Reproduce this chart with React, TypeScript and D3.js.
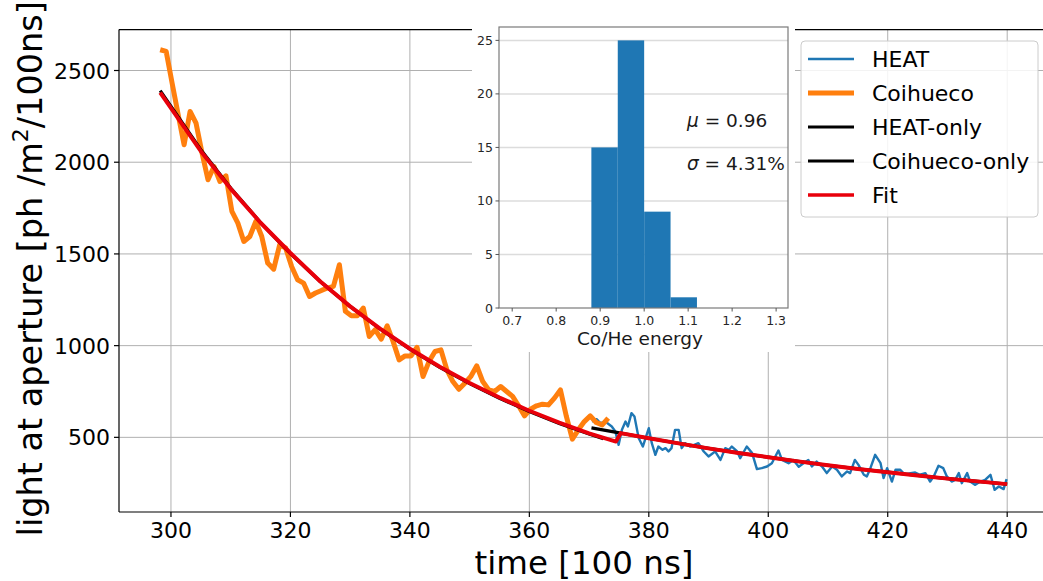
import React from "react";
import * as d3 from "d3";

// ---- Data ----
const coihuecoTime = [298.2,299.2,300.2,301.2,302.2,303.2,304.2,305.2,306.2,307.2,308.2,309.2,310.2,311.2,312.2,313.2,314.2,315.2,316.2,317.2,318.2,319.2,320.2,321.2,322.2,323.2,324.2,325.2,326.2,327.2,328.2,329.2,330.2,331.2,332.2,333.2,334.2,335.2,336.2,337.2,338.2,339.2,340.2,341.2,342.2,343.2,344.2,345.2,346.2,347.2,348.2,349.2,350.2,351.2,352.2,353.2,354.2,355.2,356.2,357.2,358.2,359.2,360.2,361.2,362.2,363.2,364.2,365.2,366.2,367.2,368.2,369.2,370.2,371.2,372.2,373.2];
const coihuecoValues = [2613,2604,2430,2260,2095,2277,2213,2050,1904,1977,1895,1926,1732,1668,1568,1595,1677,1595,1450,1417,1550,1532,1432,1359,1341,1268,1287,1301,1314,1323,1441,1187,1163,1163,1205,1050,1087,1035,1108,1022,922,944,944,991,832,913,968,977,868,804,762,795,832,890,804,759,750,777,750,723,672,617,654,672,681,677,714,759,614,490,541,586,617,581,568,605];

const heatTime = [370.5,371.3,371.9,372.7,373.8,374.4,374.95,375.5,376.1,376.5,377.1,377.6,378.3,379.0,380.0,380.5,381.1,381.6,382.3,382.8,383.3,383.8,384.4,385.0,385.5,386.1,386.9,388.3,389.2,390.0,391.1,392.0,392.8,393.4,393.9,394.8,395.3,396.4,397.3,398.1,398.9,399.8,400.6,401.7,402.3,403.4,404.2,405.1,405.9,406.7,407.3,408.1,409.0,409.8,410.7,411.5,412.3,413.2,413.7,414.5,415.1,416.0,416.5,417.1,417.9,418.8,419.3,419.9,420.7,421.3,422.1,422.9,423.8,424.6,425.4,426.3,427.1,427.7,428.5,429.3,429.9,430.7,431.3,431.9,432.4,433.3,433.8,434.6,435.5,436.3,437.2,437.9,438.6,439.4,439.9];
const heatValues = [586,599,577,586,559,532,459,541,586,559,632,614,496,450,550,468,405,450,432,441,423,441,541,541,441,468,450,468,423,396,423,377,441,432,450,423,386,450,414,327,332,341,359,428,377,359,377,340,359,377,341,368,341,305,341,323,287,314,305,377,350,296,287,332,405,359,278,332,259,323,323,296,305,308,296,305,259,287,345,332,287,259,268,305,250,305,259,241,259,268,296,214,232,218,272];

const heatOnlyTime = [370.4,375.3,380,385,390,395,400,405,410,415,420,425,430,435,440];
const heatOnlyValues = [552,523,495,467,440,415,392,369,348,328,310,292,275,260,245];

const coihuecoOnlyTime = [298.2,305,310,315,320,325,330,335,340,345,350,355,360,365,370,372.4];
const coihuecoOnlyValues = [2390,2068,1859,1671,1502,1350,1214,1091,981,882,793,713,641,576,518,492];

const fitTime = [298.2,305,310,315,320,325,330,335,340,345,350,355,360,365,370,374.5,375.3,380,385,390,395,400,405,410,415,420,425,430,435,440];
const fitValues = [2380,2060,1855,1670,1505,1350,1214,1093,983,885,796,717,645,580,522,477,523,495,467,440,415,392,369,348,328,310,292,275,260,245];

const xTicks = [300,320,340,360,380,400,420,440];
const yTicks = [500,1000,1500,2000,2500];

const histEdges = [0.88,0.94,1.0,1.06,1.12];
const histCounts = [15,25,9,1];
const insetXTicks = [0.7,0.8,0.9,1.0,1.1,1.2,1.3];
const insetYTicks = [0,5,10,15,20,25];

const legendItems = [
  { label: "HEAT", color: "#1f77b4", width: 2.4 },
  { label: "Coihueco", color: "#ff7f0e", width: 5 },
  { label: "HEAT-only", color: "#000000", width: 3.2 },
  { label: "Coihueco-only", color: "#000000", width: 3.2 },
  { label: "Fit", color: "#e8000b", width: 3.4 },
];

const FONT = "DejaVu Sans, sans-serif";

export default function App() {
  const W = 1043, H = 581;
  const x = d3.scaleLinear().domain([291.3, 447.0]).range([119, 1049]);
  const y = d3.scaleLinear().domain([93, 2723]).range([512, 29.6]);
  const left = 119, right = 1049, top = 29.6, bottom = 512;

  const mk = (ts: number[], vs: number[]) =>
    d3.line<number>().x((_, i) => x(ts[i])).y((v) => y(v))(vs) || "";

  const ix = d3.scaleLinear().domain([0.67, 1.327]).range([499, 788]);
  const iy = d3.scaleLinear().domain([0, 26.25]).range([308, 27]);

  const red = "#e8000b";

  return (
    <svg width={W} height={H} style={{ position: "absolute", left: 0, top: 0, background: "#fff" }} fontFamily={FONT}>
      <rect x={0} y={0} width={W} height={H} fill="#fff" />
      {/* main grid */}
      {xTicks.map((t) => (
        <line key={"gx" + t} x1={x(t)} x2={x(t)} y1={top} y2={bottom} stroke="#b0b0b0" strokeWidth={1} />
      ))}
      {yTicks.map((t) => (
        <line key={"gy" + t} x1={left} x2={right} y1={y(t)} y2={y(t)} stroke="#b0b0b0" strokeWidth={1} />
      ))}
      {/* data */}
      <path d={mk(heatTime, heatValues)} fill="none" stroke="#1f77b4" strokeWidth={2.4} strokeLinejoin="round" />
      <path d={mk(coihuecoTime, coihuecoValues)} fill="none" stroke="#ff7f0e" strokeWidth={5} strokeLinejoin="round" />
      <path d={mk(heatOnlyTime, heatOnlyValues)} fill="none" stroke="#000" strokeWidth={3.2} />
      <path d={mk(coihuecoOnlyTime, coihuecoOnlyValues)} fill="none" stroke="#000" strokeWidth={3.2} />
      <path d={mk(fitTime, fitValues)} fill="none" stroke={red} strokeWidth={4} strokeLinejoin="round" />
      {/* spines */}
      <line x1={left} x2={left} y1={top} y2={bottom} stroke="#000" strokeWidth={1.2} />
      <line x1={left} x2={right} y1={bottom} y2={bottom} stroke="#000" strokeWidth={1.2} />
      <line x1={left} x2={right} y1={top} y2={top} stroke="#000" strokeWidth={1.2} />
      {/* ticks */}
      {xTicks.map((t) => (
        <g key={"tx" + t}>
          <line x1={x(t)} x2={x(t)} y1={bottom} y2={bottom + 5} stroke="#000" strokeWidth={1.2} />
          <text x={x(t)} y={bottom + 26} fontSize={22} textAnchor="middle" fill="#000">{t}</text>
        </g>
      ))}
      {yTicks.map((t) => (
        <g key={"ty" + t}>
          <line x1={left - 5} x2={left} y1={y(t)} y2={y(t)} stroke="#000" strokeWidth={1.2} />
          <text x={left - 9} y={y(t) + 8} fontSize={22} textAnchor="end" fill="#000">{t}</text>
        </g>
      ))}
      {/* axis labels */}
      <text x={584} y={574} fontSize={32.5} textAnchor="middle" fill="#000">time [100 ns]</text>
      <text transform={`translate(42,${(top + bottom) / 2 - 2}) rotate(-90)`} fontSize={33.5} textAnchor="middle" fill="#000">
        light at aperture [ph /m<tspan fontSize={22} dy={-14}>2</tspan><tspan dy={14}>/100ns]</tspan>
      </text>

      {/* inset */}
      <rect x={472} y={0} width={323} height={352} fill="#fff" />
      {insetYTicks.slice(1).map((t) => (
        <line key={"igy" + t} x1={499} x2={788} y1={iy(t)} y2={iy(t)} stroke="#dcdcdc" strokeWidth={1.5} />
      ))}
      {histCounts.map((c, i) => (
        <rect key={"bar" + i} x={ix(histEdges[i])} y={iy(c)} width={ix(histEdges[i + 1]) - ix(histEdges[i])} height={iy(0) - iy(c)} fill="#1f77b4" />
      ))}
      <rect x={499} y={27} width={289} height={281} fill="none" stroke="#7a7a7a" strokeWidth={1.2} />
      {insetXTicks.map((t) => (
        <g key={"itx" + t}>
          <line x1={ix(t)} x2={ix(t)} y1={308} y2={311.5} stroke="#555" />
          <text x={ix(t)} y={325} fontSize={12.5} textAnchor="middle" fill="#262626">{t.toFixed(1)}</text>
        </g>
      ))}
      {insetYTicks.map((t) => (
        <g key={"ity" + t}>
          <line x1={495.5} x2={499} y1={iy(t)} y2={iy(t)} stroke="#555" />
          <text x={493} y={iy(t) + 4.5} fontSize={12.5} textAnchor="end" fill="#262626">{t}</text>
        </g>
      ))}
      <text x={640} y={345} fontSize={18.5} textAnchor="middle" fill="#1a1a1a">Co/He energy</text>
      <text x={687} y={127} fontSize={18.5} fill="#1a1a1a">
        <tspan fontStyle="italic">μ</tspan> = 0.96
      </text>
      <text x={687} y={170} fontSize={18.5} fill="#1a1a1a">
        <tspan fontStyle="italic">σ</tspan> = 4.31%
      </text>

      {/* legend */}
      <rect x={801} y={41} width={237} height={176} rx={4} fill="#fff" fillOpacity={0.85} stroke="#cccccc" strokeWidth={1} />
      {legendItems.map((it, i) => {
        const cy = 59 + i * 34;
        return (
          <g key={it.label}>
            <line x1={808} x2={854} y1={cy} y2={cy} stroke={it.color} strokeWidth={it.width} />
            <text x={872} y={cy + 8} fontSize={22} fill="#000">{it.label}</text>
          </g>
        );
      })}
    </svg>
  );
}
